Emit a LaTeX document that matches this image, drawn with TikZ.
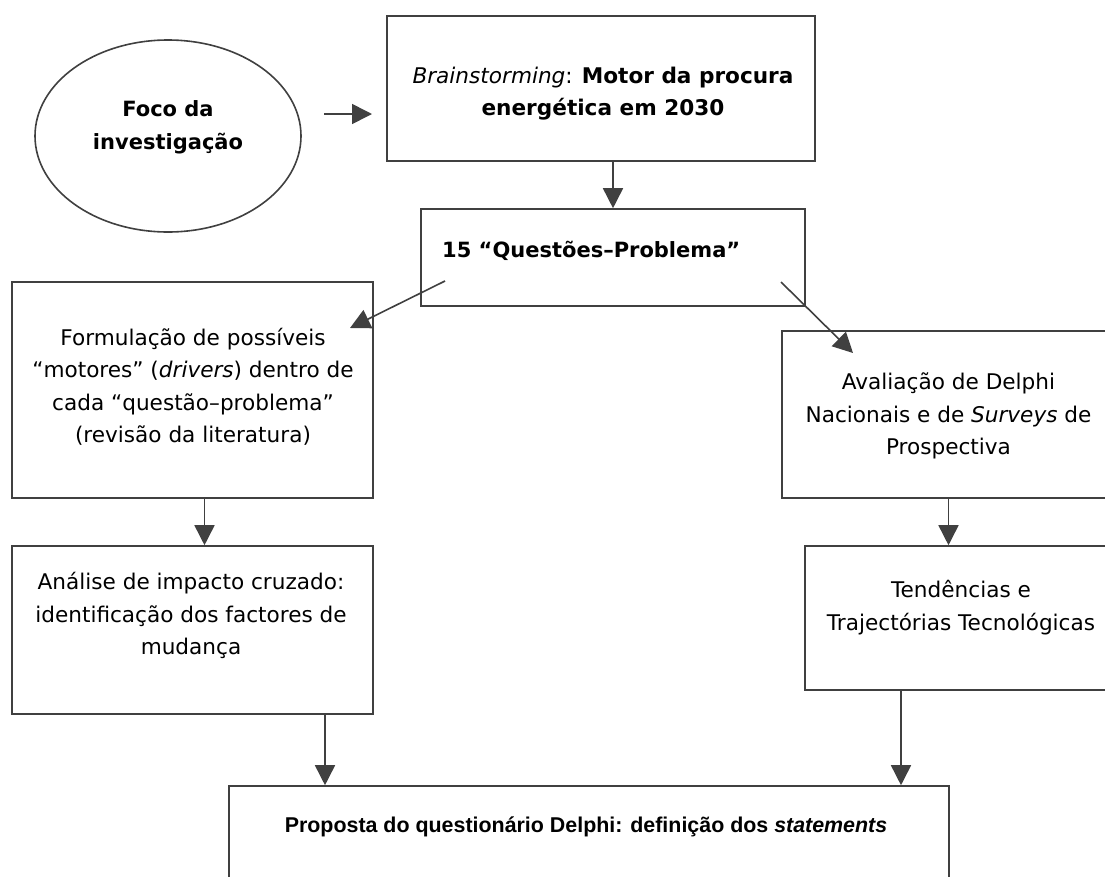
\documentclass[tikz,border=0pt]{standalone}
\usepackage{fontspec}
\setmainfont{DejaVu Sans}
\newfontfamily\arialfont{Liberation Sans}
\usetikzlibrary{arrows.meta,shapes.geometric}

\begin{document}
\begin{tikzpicture}[x=1pt,y=-1pt]

    % Define styles
    \tikzset{
        flow box/.style={rectangle, draw=black!75, line width=1.6pt, inner sep=0pt},
        focus oval/.style={ellipse, draw=black!75, line width=1.6pt, inner sep=0pt},
        box text/.style={font=\fontsize{21.6}{32.5}\selectfont, align=center, inner sep=0pt},
        bold text/.style={box text, font=\fontsize{21}{32.5}\selectfont\bfseries},
        flow arrow/.style={-{Triangle[length=20pt, width=20pt]}, draw=black!75, line width=1.6pt}
    }

    % Page frame
    \useasboundingbox (0,0) rectangle (1105,876);
    \clip (0,0) rectangle (1105,876);
    \fill[white] (0,0) rectangle (1105,876);

    % Draw the oval and the boxes
    \node[focus oval, minimum width=266pt, minimum height=192pt] (foco) at (168,136) {};
    \node[flow box, minimum width=428pt, minimum height=145pt] (brain) at (601,88.5) {};
    \node[flow box, minimum width=384pt, minimum height=97pt] (questoes) at (613,257.5) {};
    \node[flow box, minimum width=361pt, minimum height=216pt] (formulacao) at (192.5,390) {};
    \node[flow box, minimum width=361pt, minimum height=168pt] (analise) at (192.5,630) {};
    \node[flow box, minimum width=333pt, minimum height=167pt] (avaliacao) at (948.5,414.5) {};
    \node[flow box, minimum width=312pt, minimum height=144pt] (tendencias) at (961,618) {};
    \node[flow box, minimum width=720pt, minimum height=114pt] (proposta) at (589,843) {};

    % Texts of the oval and the boxes
    \node[bold text] (foco-txt) at (168,127.5) {Foco da\\investigação};
    \node[box text] (brain-txt) at (603,93.5) {
        \textit{Brainstorming}: \textbf{Motor da procura}\\
        \textbf{energética em 2030}
    };
    \node[bold text, anchor=west] (questoes-txt) at (442,251) {15 “Questões–Problema”};
    \node[box text] (formulacao-txt) at (193,387) {
        Formulação de possíveis\\
        “motores” (\textit{drivers}) dentro de\\
        cada “questão–problema”\\
        (revisão da literatura)
    };
    \node[box text] (analise-txt) at (191,615.5) {
        Análise de impacto cruzado:\\
        identificação dos factores de\\
        mudança
    };
    \node[box text] (avaliacao-txt) at (948.5,416) {
        Avaliação de Delphi\\
        Nacionais e de \textit{Surveys} de\\
        Prospectiva
    };
    \node[box text] (tendencias-txt) at (961,607.5) {
        Tendências e\\
        Trajectórias Tecnológicas
    };
    \node[box text, font=\fontsize{21.4}{32.5}\arialfont\bfseries] (proposta-txt) at (589,827) {
        Proposta do questionário Delphi: definição dos \textit{statements}
    };

    % Free ends of the loose arrows
    \coordinate (foco-out) at (324,114);
    \coordinate (brain-in) at (372,114);
    \coordinate (questoes-left) at (445,281);
    \coordinate (formulacao-tip) at (350,328);
    \coordinate (questoes-right) at (781,282);
    \coordinate (avaliacao-tip) at (853,353);

    % Arrows
    \draw[flow arrow] (foco-out) -- (brain-in);
    \draw[flow arrow] (brain.south -| questoes.north) -- (questoes.north);
    \draw[flow arrow] (questoes-left) -- (formulacao-tip);
    \draw[flow arrow] (questoes-right) -- (avaliacao-tip);
    \draw[flow arrow] ([xshift=12pt]formulacao.south) -- ([xshift=12pt]analise.north);
    \draw[flow arrow] (avaliacao.south) -- (avaliacao.south |- tendencias.north);
    \draw[flow arrow] ([xshift=132.5pt]analise.south) -- ([xshift=132.5pt]analise.south |- proposta.north);
    \draw[flow arrow] ([xshift=-60pt]tendencias.south) -- ([xshift=-60pt]tendencias.south |- proposta.north);

\end{tikzpicture}
\end{document}
